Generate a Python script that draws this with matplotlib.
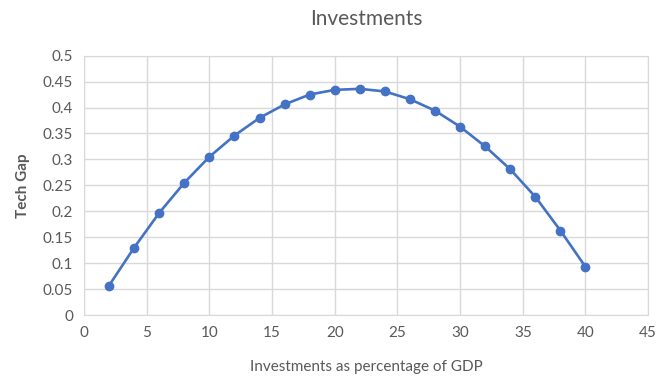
import numpy as np
import matplotlib.pyplot as plt

# data
invest = [2, 4, 6, 8, 10, 12, 14, 16, 18, 20, 22, 24, 26, 28, 30, 32, 34, 36, 38, 40]
tech_gap = [0.057, 0.130, 0.197, 0.255, 0.305, 0.346, 0.380, 0.406, 0.425, 0.434,
            0.436, 0.431, 0.416, 0.394, 0.363, 0.325, 0.281, 0.228, 0.163, 0.093]
x_ticks = [0, 5, 10, 15, 20, 25, 30, 35, 40, 45]
y_ticks = [0, 0.05, 0.1, 0.15, 0.2, 0.25, 0.3, 0.35, 0.4, 0.45, 0.5]

plt.rcParams['font.family'] = ['Lato', 'DejaVu Sans']
grey = '#595959'

fig = plt.figure(figsize=(6.59, 3.81), dpi=100)
ax = fig.add_axes([0.1275, 0.173, 0.856, 0.681])

ax.plot(invest, tech_gap, color='#4472C4', lw=1.9, marker='o', ms=6, zorder=3)

ax.set_xlim(0, 45)
ax.set_ylim(0, 0.5)
ax.set_xticks(x_ticks)
ax.set_yticks(y_ticks)
ax.set_yticklabels([('%g' % v) for v in y_ticks])
ax.tick_params(length=0, labelsize=11, colors=grey, pad=8)
ax.grid(True, color='#d9d9d9', lw=1)
ax.set_axisbelow(True)
for s in ax.spines.values():
    s.set_color('#d9d9d9')

ax.set_title('Investments', fontsize=15, color=grey, pad=22)
ax.set_xlabel('Investments as percentage of GDP', fontsize=11, color=grey, labelpad=14)
ax.set_ylabel('Tech Gap', fontsize=11, color=grey, fontweight='bold', labelpad=9)

fig.savefig('out.png')
